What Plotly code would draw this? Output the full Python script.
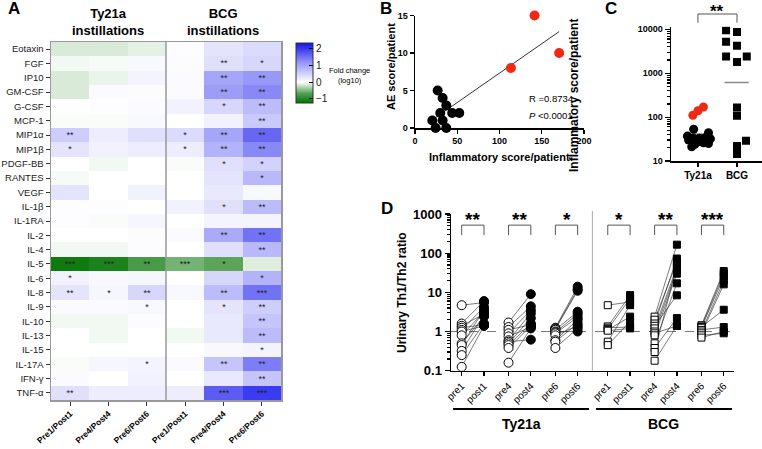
import numpy as np
import plotly.graph_objects as go

W, H = 762, 449
FONT = "Liberation Sans, Arial, sans-serif"


def px(x):
    return x / W


def py(y):
    return 1 - y / H


# ---------------- Panel A data ----------------
cytokines = ["Eotaxin", "FGF", "IP10", "GM-CSF", "G-CSF", "MCP-1", "MIP1α", "MIP1β",
             "PDGF-BB", "RANTES", "VEGF", "IL-1β", "IL-1RA", "IL-2", "IL-4", "IL-5",
             "IL-6", "IL-8", "IL-9", "IL-10", "IL-13", "IL-15", "IL-17A", "IFN-γ", "TNF-α"]
comparison_labels = ["Pre1/Post1", "Pre4/Post4", "Pre6/Post6",
                     "Pre1/Post1", "Pre4/Post4", "Pre6/Post6"]
fold_change_log10 = [
    [-0.15, -0.15, -0.10, 0.02, 0.30, 0.40],
    [-0.05, -0.03, 0.08, 0.03, 0.35, 0.45],
    [-0.15, -0.08, 0.12, 0.05, 1.00, 1.15],
    [-0.15, 0.05, 0.03, 0.05, 1.10, 1.30],
    [0.00, 0.02, 0.05, 0.15, 0.45, 0.75],
    [-0.02, -0.02, 0.08, 0.00, 0.15, 0.60],
    [0.55, 0.20, 0.35, 0.40, 1.00, 1.60],
    [0.30, 0.15, 0.20, 0.20, 0.85, 1.30],
    [0.00, -0.05, 0.00, -0.02, 0.35, 0.50],
    [-0.03, 0.00, 0.00, 0.00, 0.30, 0.80],
    [0.30, 0.00, 0.15, 0.00, 0.25, 0.08],
    [0.02, 0.02, 0.00, 0.15, 0.35, 0.75],
    [0.02, -0.02, 0.10, 0.00, 0.12, 0.12],
    [0.00, 0.00, 0.03, 0.05, 0.95, 1.50],
    [-0.05, -0.05, 0.03, 0.00, 0.35, 0.80],
    [-1.15, -1.05, -0.75, -0.55, -0.65, -0.12],
    [0.15, 0.08, 0.10, 0.00, 0.45, 0.85],
    [0.30, 0.10, 0.45, 0.08, 0.75, 1.50],
    [0.05, 0.05, 0.08, 0.00, 0.30, 0.55],
    [-0.05, -0.05, 0.03, 0.00, 0.25, 0.65],
    [0.00, -0.05, 0.00, -0.05, 0.25, 0.75],
    [0.00, 0.00, 0.00, 0.00, 0.08, 0.12],
    [-0.02, 0.10, 0.12, 0.05, 0.65, 1.40],
    [0.05, 0.00, 0.15, 0.00, 0.25, 0.65],
    [0.35, 0.20, 0.20, 0.20, 1.70, 2.00],
]
significance = [
    ["", "", "", "", "", ""],
    ["", "", "", "", "**", "*"],
    ["", "", "", "", "**", "**"],
    ["", "", "", "", "**", "**"],
    ["", "", "", "", "*", "**"],
    ["", "", "", "", "", "**"],
    ["**", "", "", "*", "**", "**"],
    ["*", "", "", "*", "**", "**"],
    ["", "", "", "", "*", "*"],
    ["", "", "", "", "", "*"],
    ["", "", "", "", "", ""],
    ["", "", "", "", "*", "**"],
    ["", "", "", "", "", ""],
    ["", "", "", "", "**", "**"],
    ["", "", "", "", "", "**"],
    ["***", "***", "**", "***", "*", ""],
    ["*", "", "", "", "", "*"],
    ["**", "*", "**", "", "**", "***"],
    ["", "", "*", "", "*", "**"],
    ["", "", "", "", "", "**"],
    ["", "", "", "", "", "**"],
    ["", "", "", "", "", "*"],
    ["", "", "*", "", "**", "**"],
    ["", "", "", "", "", "**"],
    ["**", "", "", "", "***", "***"],
]
colorbar_ticks = [-1, 0, 1, 2]

# ---------------- Panel B data ----------------
infl_black = [26.8, 20.5, 24.4, 29.9, 32.7, 32.7, 37.0, 37.0, 44.0, 52.4]
ae_black = [5, 1, 0, 2, 4, 1, 3, 0, 2, 2]
infl_red = [113.5, 141.5, 170.6]
ae_red = [8, 15, 10]

# ---------------- Panel C data ----------------
c_groups = ["Ty21a", "BCG"]
c_ticks = [10, 100, 1000, 10000]
ty_black_score = [53, 44, 37, 33, 33, 34, 32, 30, 27, 26, 24, 25, 21]
ty_black_dx = [-0.11, 0.27, -0.27, -0.12, 0.04, 0.19, 0.32, -0.24, -0.02, 0.14, -0.08, 0.27, -0.16]
ty_red_score = [110, 140, 170]
ty_red_dx = [-0.13, 0.0, 0.14]
bcg_score = [9500, 8700, 5200, 4200, 2400, 1800, 2400, 165, 107, 29, 22, 14.5]
bcg_dx = [-0.28, 0.0, -0.28, 0.0, -0.28, 0.0, 0.25, 0.0, 0.0, 0.23, 0.0, 0.0]

# ---------------- Panel D data ----------------
d_tick_labels = ["pre1", "post1", "pre4", "post4", "pre6", "post6",
                 "pre1", "post1", "pre4", "post4", "pre6", "post6"]
d_positions = [0, 1, 2.1, 3.1, 4.2, 5.2, 6.55, 7.55, 8.65, 9.65, 10.75, 11.75]
d_ticks = [0.1, 1, 10, 100, 1000]
ty_pre1 = [4.7, 1.6, 1.4, 1.25, 1.1, 1.0, 0.8, 0.5, 0.45, 0.32, 0.25, 0.125]
ty_post1 = [5.5, 6.0, 2.8, 1.5, 4.2, 1.4, 3.2, 2.4, 3.6, 2.6, 1.6, 1.4]
ty_pre4 = [1.7, 1.3, 1.1, 0.9, 0.75, 0.6, 0.55, 0.5, 0.45, 0.38, 0.16]
ty_post4 = [9.0, 4.4, 1.5, 3.5, 1.3, 2.9, 0.62, 2.2, 1.6, 1.4, 1.2]
ty_pre6 = [1.25, 1.2, 1.15, 1.1, 1.0, 0.95, 0.9, 0.8, 0.6, 0.55, 0.38]
ty_post6 = [14, 12, 11, 3.2, 1.0, 2.8, 2.3, 1.4, 2.0, 1.6, 1.2]
bcg_pre1 = [4.7, 1.35, 1.25, 1.15, 1.1, 1.05, 0.55, 0.45]
bcg_post1 = [5.7, 8.5, 1.3, 7.0, 2.4, 1.2, 4.7, 1.8]
bcg_pre4 = [2.4, 2.0, 1.6, 1.4, 1.2, 1.0, 0.9, 0.8, 0.5, 0.38, 0.3, 0.18]
bcg_post4 = [165, 60, 73, 8.4, 45, 37, 1.4, 30, 17, 2.2, 50, 1.4]
bcg_pre6 = [1.45, 1.35, 1.3, 1.25, 1.1, 1.0, 0.9, 0.8, 0.7]
bcg_post6 = [35, 30, 3.6, 25, 1.3, 20, 16, 0.9, 1.0]
d_stars = ["**", "**", "*", "*", "**", "***"]

fig = go.Figure()

# ---------------- Panel A ----------------
cmin, cmax = -1.25, 2.35
w0 = (0 - cmin) / (cmax - cmin)
colorscale = [[0, "rgb(0,115,0)"], [w0 * 0.45, "rgb(80,160,80)"], [w0, "rgb(255,255,255)"],
              [w0 + (1 - w0) * 0.5, "rgb(150,150,248)"], [1, "rgb(20,20,235)"]]
fig.add_trace(go.Heatmap(
    z=fold_change_log10, x=list(range(len(comparison_labels))), y=cytokines,
    text=significance, texttemplate="%{text}",
    textfont=dict(size=9, color="#222", family=FONT),
    colorscale=colorscale, zmin=cmin, zmax=cmax, xaxis="x", yaxis="y",
    colorbar=dict(x=px(296), xanchor="left", y=py(43), yanchor="top",
                  len=60, lenmode="pixels", thickness=17, thicknessmode="pixels",
                  tickvals=colorbar_ticks, ticks="inside", ticklen=4, tickcolor="black",
                  tickfont=dict(size=10, family=FONT, color="#222"),
                  outlinecolor="#333", outlinewidth=1, xpad=0, ypad=0),
    hoverinfo="skip"))

# ---------------- Panel B ----------------
all_x = np.array(infl_black + infl_red)
all_y = np.array(ae_black + ae_red)
slope, intercept = np.polyfit(all_x, all_y, 1)
lx = np.array([all_x.min(), all_x.max()])
fig.add_trace(go.Scatter(x=lx, y=slope * lx + intercept, mode="lines",
                         line=dict(color="#333", width=1), xaxis="x2", yaxis="y2",
                         showlegend=False))
fig.add_trace(go.Scatter(x=infl_black, y=ae_black, mode="markers",
                         marker=dict(color="black", size=10), xaxis="x2", yaxis="y2",
                         cliponaxis=False, showlegend=False))
fig.add_trace(go.Scatter(x=infl_red, y=ae_red, mode="markers",
                         marker=dict(color="rgb(240,40,20)", size=10), xaxis="x2", yaxis="y2",
                         cliponaxis=False, showlegend=False))

# ---------------- Panel C ----------------
ty_all = np.array(ty_black_score + ty_red_score, dtype=float)
ty_gm = 10 ** np.mean(np.log10(ty_all))
bcg_gm = 10 ** np.mean(np.log10(np.array(bcg_score, dtype=float)))
for gi, gm in enumerate([ty_gm, bcg_gm]):
    fig.add_trace(go.Scatter(x=[gi - 0.32, gi + 0.3], y=[gm, gm], mode="lines",
                             line=dict(color="#888", width=1.5), xaxis="x3", yaxis="y3",
                             showlegend=False))
fig.add_trace(go.Scatter(x=[0 + d for d in ty_black_dx], y=ty_black_score, mode="markers",
                         marker=dict(color="black", size=9), xaxis="x3", yaxis="y3",
                         showlegend=False))
fig.add_trace(go.Scatter(x=[0 + d for d in ty_red_dx], y=ty_red_score, mode="markers",
                         marker=dict(color="rgb(240,40,20)", size=9), xaxis="x3", yaxis="y3",
                         showlegend=False))
fig.add_trace(go.Scatter(x=[1 + d for d in bcg_dx], y=bcg_score, mode="markers",
                         marker=dict(color="black", size=8, symbol="square"), xaxis="x3",
                         yaxis="y3", showlegend=False))

# ---------------- Panel D ----------------
fig.add_trace(go.Scatter(x=[d_positions[0] - 0.48, d_positions[-1] + 0.46], y=[1, 1],
                         mode="lines", line=dict(color="#555", width=0.8, dash="dash"),
                         xaxis="x4", yaxis="y4", showlegend=False))
pairs = [(ty_pre1, ty_post1, "circle"), (ty_pre4, ty_post4, "circle"),
         (ty_pre6, ty_post6, "circle"), (bcg_pre1, bcg_post1, "square"),
         (bcg_pre4, bcg_post4, "square"), (bcg_pre6, bcg_post6, "square")]
for k, (pre, post, sym) in enumerate(pairs):
    xa, xb = d_positions[2 * k], d_positions[2 * k + 1]
    lxs, lys = [], []
    for a, b in zip(pre, post):
        lxs += [xa, xb, None]
        lys += [a, b, None]
    fig.add_trace(go.Scatter(x=lxs, y=lys, mode="lines", line=dict(color="#222", width=0.6),
                             xaxis="x4", yaxis="y4", showlegend=False))
    msize = 9 if sym == "circle" else 7
    fig.add_trace(go.Scatter(x=[xa] * len(pre), y=pre, mode="markers",
                             marker=dict(symbol=sym, size=msize, color="white",
                                         line=dict(color="black", width=1)),
                             xaxis="x4", yaxis="y4", showlegend=False))
    fig.add_trace(go.Scatter(x=[xb] * len(post), y=post, mode="markers",
                             marker=dict(symbol=sym, size=msize, color="black",
                                         line=dict(color="black", width=1)),
                             xaxis="x4", yaxis="y4", showlegend=False))
    fig.add_trace(go.Scatter(x=[xa, xa, xb, xb], y=[290, 520, 520, 290], mode="lines",
                             line=dict(color="#555", width=1), xaxis="x4", yaxis="y4",
                             showlegend=False))

# ---------------- Layout ----------------
def tickfont_bold(s):
    return dict(size=s, family=FONT, color="black", weight="bold")


ax_common = dict(showgrid=False, zeroline=False, showline=True, linecolor="black",
                 linewidth=1.5, ticks="outside", tickcolor="black", tickwidth=1.2,
                 automargin=False)

annotations = []


def ann(text, x, y, size, bold=False, xanchor="center", yanchor="middle", angle=0,
        xref="paper", yref="paper"):
    annotations.append(dict(text=text, x=x, y=y, xref=xref, yref=yref, showarrow=False,
                            xanchor=xanchor, yanchor=yanchor, textangle=angle,
                            font=dict(size=size, family=FONT, color="black",
                                      weight="bold" if bold else "normal")))


ann("A", px(14), py(9), 17, bold=True)
ann("B", px(386), py(8), 17, bold=True)
ann("C", px(611), py(8), 17, bold=True)
ann("D", px(387), py(208), 17, bold=True)
ann("Ty21a<br>instillations", px(108), py(22), 13, bold=True)
ann("BCG<br>instillations", px(223), py(22), 13, bold=True)
ann("Fold change<br>(log10)", px(349), py(75), 7.5)
ann("AE score/patient", px(391), py(67), 11, bold=True, angle=-90)
ann("Inflammatory score/patient", px(499), py(157), 11, bold=True)
ann("R =0.8734", px(527), py(98), 9.5, xanchor="left")
ann("<i>P</i> <0.0001", px(527), py(115), 9.5, xanchor="left")
ann("Inflammatory score/patient", px(574), py(96), 12, bold=True, angle=-90)
ann("**", 0.5, py(11), 17, bold=True, xref="x3")
ann("Urinary Th1/Th2 ratio", px(402), py(292), 12, bold=True, angle=-90)
for k, s in enumerate(d_stars):
    ann(s, (d_positions[2 * k] + d_positions[2 * k + 1]) / 2, py(220), 19, bold=True,
        xref="x4")
ann("Ty21a", px(521.7), py(424), 14, bold=True)
ann("BCG", px(663), py(424), 14, bold=True)

shapes = [
    dict(type="line", xref="x", yref="paper", x0=2.5, x1=2.5, y0=py(400), y1=py(42),
         line=dict(color="#999", width=1.5)),
    dict(type="path", xref="x3", yref="paper",
         path=f"M 0,{py(22.7)} L 0,{py(14)} L 1,{py(14)} L 1,{py(22.7)}",
         line=dict(color="#555", width=1)),
    dict(type="line", xref="x4", yref="paper", x0=5.86, x1=5.86, y0=py(370.7), y1=py(211),
         line=dict(color="#aaa", width=1)),
    dict(type="line", xref="paper", yref="paper", x0=px(453), x1=px(589), y0=py(409),
         y1=py(409), line=dict(color="black", width=2)),
    dict(type="line", xref="paper", yref="paper", x0=px(596), x1=px(732), y0=py(409),
         y1=py(409), line=dict(color="black", width=2)),
]

fig.update_layout(
    width=W, height=H, margin=dict(l=0, r=0, t=0, b=0, autoexpand=False),
    paper_bgcolor="white", plot_bgcolor="white", showlegend=False, hovermode=False,
    font=dict(family=FONT, color="black"),
    annotations=annotations, shapes=shapes,
    # Panel A
    xaxis=dict(domain=[px(51), px(281)], range=[-0.5, 5.5],
               tickvals=list(range(len(comparison_labels))), ticktext=comparison_labels,
               tickangle=-42, ticks="outside", ticklen=4, tickcolor="#333",
               tickfont=tickfont_bold(8.5), showline=True, linecolor="#999", linewidth=1.5,
               mirror=True, showgrid=False, zeroline=False, anchor="y", automargin=False),
    yaxis=dict(domain=[py(400), py(42)], autorange="reversed", ticks="outside", ticklen=4,
               tickcolor="#333", tickfont=dict(size=9.5, family=FONT, color="#222"),
               showline=True, linecolor="#999", linewidth=1.5, mirror=True,
               showgrid=False, zeroline=False, anchor="x", automargin=False),
    # Panel B
    xaxis2=dict(domain=[px(415), px(584)], range=[0, 200], tickvals=[0, 50, 100, 150, 200],
                ticklen=4, tickfont=tickfont_bold(9), anchor="y2", **ax_common),
    yaxis2=dict(domain=[py(128), py(15.5)], range=[0, 15], tickvals=[0, 5, 10, 15],
                ticklen=4, tickfont=tickfont_bold(9), anchor="x2", **ax_common),
    # Panel C
    xaxis3=dict(domain=[px(671), 1.0], range=[-0.69, 1.64], tickvals=[0, 1],
                ticktext=c_groups, ticklen=4, tickfont=tickfont_bold(10), anchor="y3",
                **ax_common),
    yaxis3=dict(domain=[py(161), py(26.7)], type="log", range=[1, 4.06],
                tickvals=c_ticks, ticktext=[str(v) for v in c_ticks],
                ticklen=5, tickfont=tickfont_bold(9), anchor="x3",
                minor=dict(ticks="outside", ticklen=2.5, tickcolor="black", dtick="D1",
                           showgrid=False),
                **ax_common),
    # Panel D
    xaxis4=dict(domain=[px(451), px(734)], range=[d_positions[0] - 0.48, d_positions[-1] + 0.46],
                tickvals=d_positions, ticktext=d_tick_labels, tickangle=-45, ticklen=4,
                tickfont=dict(size=10, family=FONT, color="black"), anchor="y4",
                **ax_common),
    yaxis4=dict(domain=[py(370.7), py(214)], type="log", range=[-1, 3],
                tickvals=d_ticks, ticktext=[f"{v:g}" for v in d_ticks],
                ticklen=5, tickfont=tickfont_bold(13), anchor="x4",
                minor=dict(ticks="outside", ticklen=2.5, tickcolor="black", dtick="D1",
                           showgrid=False),
                **ax_common),
)

fig.write_html("out.html", config={"displayModeBar": False, "staticPlot": True},
               post_script="document.body.style.margin='0px';document.body.style.overflow='hidden';")
